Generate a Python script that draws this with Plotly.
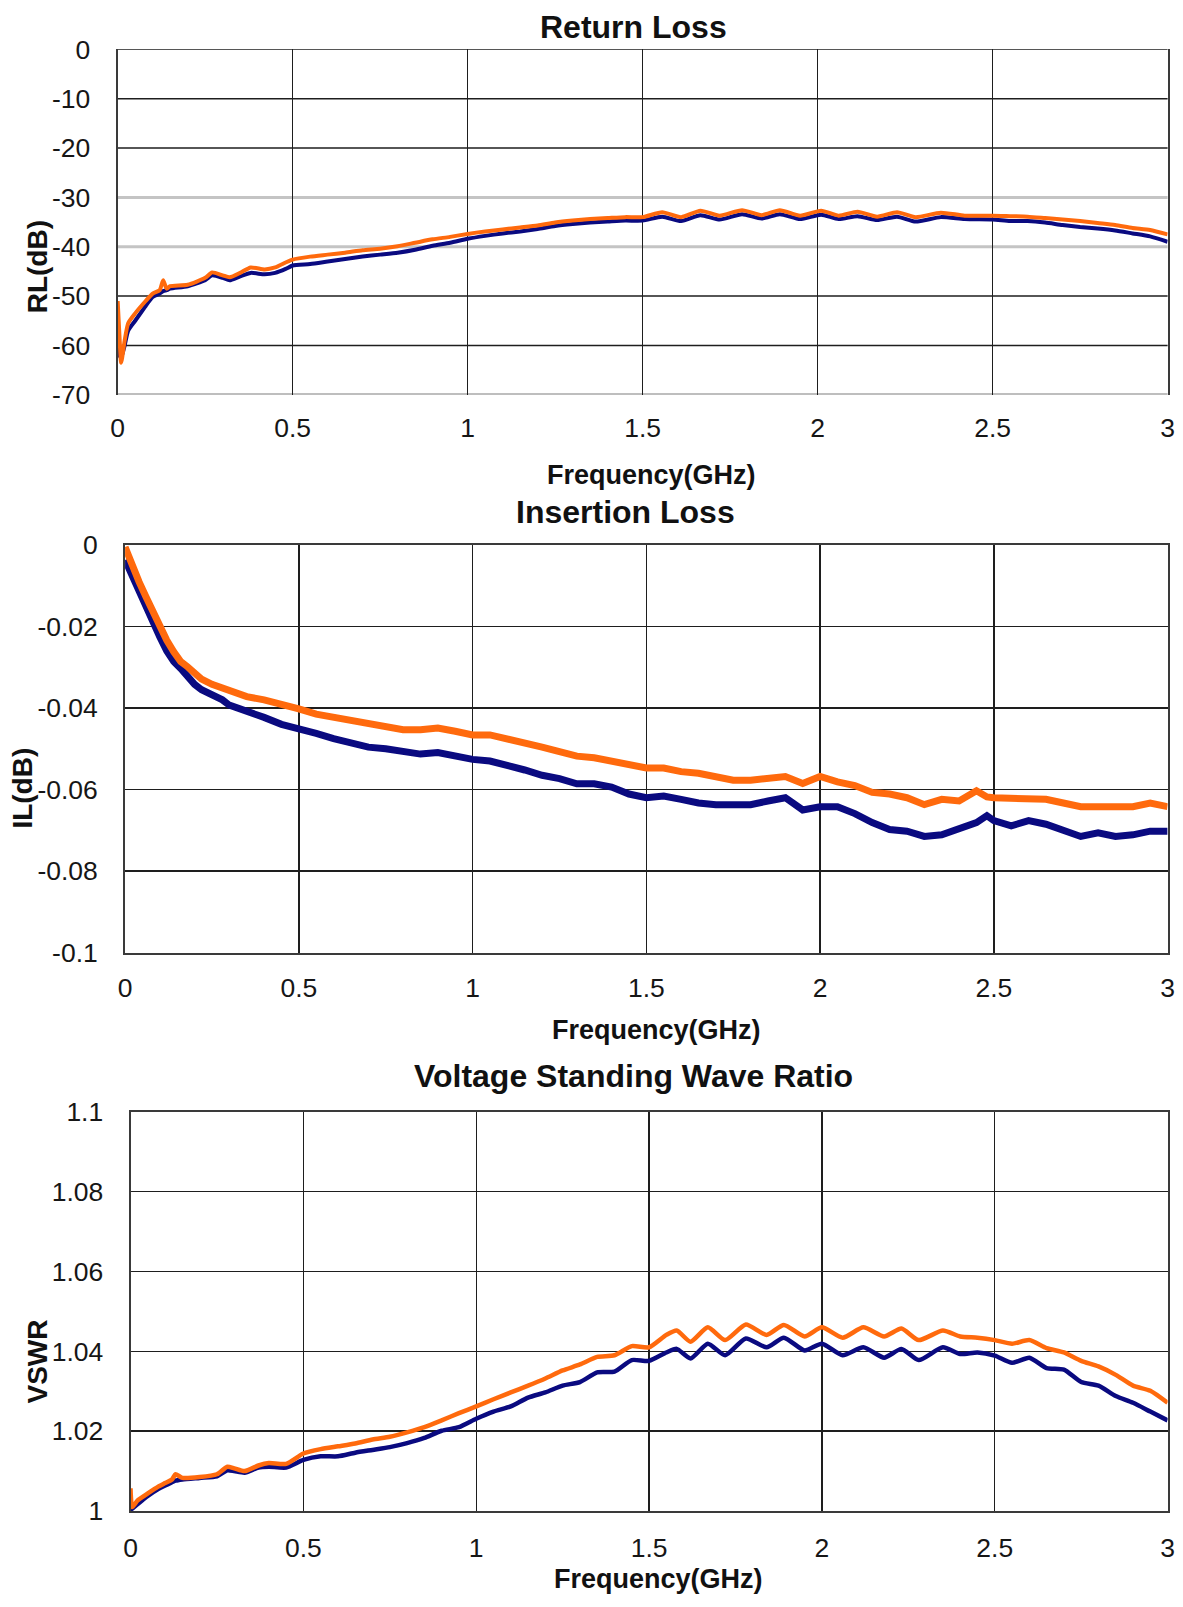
import plotly.graph_objects as go

# ---------------------------------------------------------------- data
# Return loss (dB) vs frequency (GHz)
rl_freq = [0, 0.005, 0.01, 0.02, 0.03, 0.05, 0.08, 0.10, 0.12, 0.13, 0.14, 0.15,
           0.20, 0.25, 0.27, 0.30, 0.32, 0.35, 0.38, 0.42, 0.45, 0.48,
           0.50, 0.55, 0.60, 0.65, 0.70, 0.75, 0.80, 0.85, 0.90, 0.95,
           1.00, 1.05, 1.10, 1.15, 1.20, 1.25, 1.30, 1.35, 1.40, 1.45,
           1.50, 1.556, 1.61, 1.665, 1.72, 1.784, 1.84, 1.892, 1.95, 2.01,
           2.06, 2.114, 2.17, 2.227, 2.28, 2.352, 2.42,
           2.50, 2.55, 2.60, 2.65, 2.70, 2.75, 2.80, 2.85, 2.90, 2.95, 3.00]
rl_orange = [-51.0, -58.0, -63.5, -59.0, -55.5, -53.5, -51.0, -49.5, -48.8, -46.8, -48.5, -48.0,
             -47.7, -46.3, -45.2, -45.8, -46.2, -45.3, -44.2, -44.6, -44.2, -43.2,
             -42.6, -42.0, -41.6, -41.2, -40.7, -40.4, -39.9, -39.2, -38.5, -38.0,
             -37.4, -36.9, -36.5, -36.1, -35.7, -35.1, -34.7, -34.4, -34.2, -34.0,
             -34.0, -33.0, -34.0, -32.7, -33.7, -32.6, -33.6, -32.6, -33.7, -32.7,
             -33.7, -32.9, -33.9, -33.0, -34.0, -33.1, -33.7,
             -33.7, -33.8, -33.9, -34.2, -34.5, -34.8, -35.2, -35.6, -36.2, -36.6, -37.5]
rl_blue = [-60.0, -62.0, -62.5, -60.0, -57.0, -55.0, -52.0, -50.2, -49.5, -49.0, -48.8, -48.5,
           -48.0, -46.8, -45.8, -46.3, -46.8, -46.0, -45.3, -45.6, -45.3, -44.5,
           -43.8, -43.5, -43.0, -42.5, -42.0, -41.6, -41.2, -40.6, -39.8, -39.2,
           -38.4, -37.8, -37.3, -36.9, -36.4, -35.8, -35.4, -35.1, -34.9, -34.7,
           -34.7, -33.9, -34.8, -33.6, -34.5, -33.4, -34.3, -33.4, -34.4, -33.5,
           -34.4, -33.8, -34.6, -33.9, -34.9, -34.0, -34.4,
           -34.5, -34.8, -34.8, -35.1, -35.6, -36.0, -36.3, -36.7, -37.3, -37.9, -39.0]

# Insertion loss (dB) vs frequency (GHz)
il_freq = [0, 0.02, 0.04, 0.06, 0.08, 0.10, 0.12, 0.14, 0.16, 0.18, 0.20, 0.22,
           0.25, 0.28, 0.30,
           0.35, 0.40, 0.45, 0.50, 0.55, 0.60, 0.65, 0.70, 0.75, 0.80, 0.85,
           0.90, 0.95, 1.00, 1.05, 1.10, 1.15, 1.20, 1.25, 1.30, 1.35, 1.40,
           1.45, 1.50, 1.55, 1.60, 1.65, 1.70, 1.75, 1.80, 1.85, 1.90, 1.95,
           2.00, 2.05, 2.10, 2.15, 2.20, 2.25, 2.30, 2.35, 2.40, 2.45,
           2.48,
           2.50, 2.55, 2.60, 2.65, 2.70, 2.75, 2.80, 2.85, 2.90, 2.95, 3.00]
il_orange = [-0.0005, -0.0050, -0.0090, -0.0127, -0.0166, -0.0204, -0.0234, -0.0262, -0.0286, -0.0299, -0.0316, -0.0329,
             -0.0342, -0.0350, -0.0359,
             -0.0372, -0.0380, -0.0389, -0.0402, -0.0415, -0.0423, -0.0432, -0.0440, -0.0445, -0.0453, -0.0453,
             -0.0449, -0.0457, -0.0466, -0.0466, -0.0475, -0.0487, -0.0496, -0.0507, -0.0518, -0.0522, -0.0530,
             -0.0539, -0.0547, -0.0547, -0.0556, -0.0560, -0.0568, -0.0577, -0.0577, -0.0573, -0.0568, -0.0585,
             -0.0568, -0.0581, -0.0590, -0.0607, -0.0611, -0.0620, -0.0637, -0.0624, -0.0628, -0.0603,
             -0.0618,
             -0.0620, -0.0620, -0.0620, -0.0624, -0.0633, -0.0642, -0.0642, -0.0642, -0.0642, -0.0633, -0.0642]
il_blue = [-0.0037, -0.0076, -0.0114, -0.0148, -0.0191, -0.0226, -0.0260, -0.0286, -0.0303, -0.0324, -0.0342, -0.0355,
           -0.0367, -0.0380, -0.0393,
           -0.0406, -0.0423, -0.0440, -0.0449, -0.0462, -0.0475, -0.0487, -0.0496, -0.0500, -0.0505, -0.0513,
           -0.0509, -0.0518, -0.0526, -0.0530, -0.0539, -0.0552, -0.0565, -0.0573, -0.0586, -0.0586, -0.0594,
           -0.0611, -0.0620, -0.0616, -0.0624, -0.0633, -0.0637, -0.0637, -0.0637, -0.0628, -0.0620, -0.0650,
           -0.0642, -0.0642, -0.0659, -0.0681, -0.0698, -0.0702, -0.0715, -0.0711, -0.0698, -0.0681,
           -0.0664,
           -0.0676, -0.0689, -0.0676, -0.0685, -0.0702, -0.0715, -0.0706, -0.0715, -0.0711, -0.0702, -0.0702]

# Voltage standing wave ratio vs frequency (GHz)
vswr_freq = [0, 0.005, 0.02, 0.05, 0.08, 0.10, 0.12, 0.13, 0.15,
             0.20, 0.25, 0.28, 0.30, 0.33, 0.37, 0.40, 0.45,
             0.50, 0.55, 0.60, 0.65, 0.70, 0.75, 0.80, 0.85, 0.90, 0.95, 1.00,
             1.05, 1.10, 1.15, 1.20, 1.25, 1.30, 1.35, 1.40, 1.45, 1.50, 1.55,
             1.58, 1.62, 1.67, 1.72, 1.78, 1.84, 1.89, 1.95, 2.00, 2.06, 2.12,
             2.18, 2.23, 2.28, 2.35,
             2.40, 2.45, 2.50, 2.55, 2.60, 2.65, 2.70, 2.75, 2.80, 2.85, 2.90, 2.95, 3.00]
vswr_orange = [1.0057, 1.0010, 1.0026, 1.0044, 1.0061, 1.0070, 1.0079, 1.0092, 1.0083,
               1.0085, 1.0092, 1.0111, 1.0107, 1.0100, 1.0114, 1.0120, 1.0118,
               1.0144, 1.0155, 1.0162, 1.0169, 1.0179, 1.0186, 1.0197, 1.0210, 1.0227, 1.0245, 1.0262,
               1.0280, 1.0297, 1.0314, 1.0332, 1.0352, 1.0367, 1.0386, 1.0390, 1.0413, 1.0410, 1.0441,
               1.0452, 1.0424, 1.0460, 1.0428, 1.0467, 1.0441, 1.0466, 1.0437, 1.0460, 1.0434, 1.0460,
               1.0437, 1.0457, 1.0428, 1.0452,
               1.0437, 1.0434, 1.0428, 1.0419, 1.0428, 1.0408, 1.0397, 1.0376, 1.0362, 1.0341, 1.0314, 1.0301, 1.0271]
vswr_blue = [1.0004, 1.0006, 1.0017, 1.0038, 1.0055, 1.0064, 1.0072, 1.0076, 1.0079,
             1.0083, 1.0087, 1.0102, 1.0100, 1.0096, 1.0109, 1.0111, 1.0109,
             1.0128, 1.0137, 1.0137, 1.0146, 1.0153, 1.0160, 1.0170, 1.0183, 1.0201, 1.0210, 1.0231,
             1.0249, 1.0262, 1.0284, 1.0297, 1.0314, 1.0323, 1.0347, 1.0349, 1.0378, 1.0376, 1.0397,
             1.0406, 1.0382, 1.0419, 1.0390, 1.0432, 1.0410, 1.0434, 1.0402, 1.0419, 1.0390, 1.0410,
             1.0384, 1.0406, 1.0378, 1.0410,
             1.0393, 1.0397, 1.0389, 1.0371, 1.0384, 1.0358, 1.0354, 1.0323, 1.0314, 1.0288, 1.0271, 1.0249, 1.0227]

# Axis ticks
freq_ticks = [0, 0.5, 1, 1.5, 2, 2.5, 3]
freq_labels = ["0", "0.5", "1", "1.5", "2", "2.5", "3"]
rl_ticks = [0, -10, -20, -30, -40, -50, -60, -70]
rl_labels = ["0", "-10", "-20", "-30", "-40", "-50", "-60", "-70"]
il_ticks = [0, -0.02, -0.04, -0.06, -0.08, -0.1]
il_labels = ["0", "-0.02", "-0.04", "-0.06", "-0.08", "-0.1"]
vswr_ticks = [1, 1.02, 1.04, 1.06, 1.08, 1.1]
vswr_labels = ["1", "1.02", "1.04", "1.06", "1.08", "1.1"]

# ---------------------------------------------------------------- style
W, H = 1183, 1607
FONT = "Arial, 'Liberation Sans', sans-serif"
TEXT = "#161616"
ORANGE = "#FF6A0D"
NAVY = "#0A0A80"
GRID = "#1e1e1e"
FRAME = "#3a3a3a"


def fx(px):
    """figure x pixel -> paper fraction"""
    return px / W


def fy(px):
    """figure y pixel (from top) -> paper fraction"""
    return 1 - px / H


# plot boxes in figure pixels: (left, right, top, bottom)
# right edge leaves room for the last "3" tick label inside the figure
BOX1 = (112, 1174.5, 35, 387)
BOX2 = (119.5, 1174.5, 540, 955.5)
BOX3 = (125, 1174.5, 1117.5, 1524.5)

fig = go.Figure()

# (x axis, y axis, freq, blue, orange, width, line shape)
series = [
    ("x", "y", rl_freq, rl_blue, rl_orange, 4, "spline"),
    ("x2", "y2", il_freq, il_blue, il_orange, 7, "linear"),
    ("x3", "y3", vswr_freq, vswr_blue, vswr_orange, 4.5, "spline"),
]
for xa, ya, fr, blue, orange, lw, shape in series:
    for vals, col in ((blue, NAVY), (orange, ORANGE)):
        fig.add_trace(go.Scatter(x=fr, y=vals, mode="lines", xaxis=xa, yaxis=ya,
                                 line=dict(color=col, width=lw, shape=shape, smoothing=0.6),
                                 showlegend=False))

TICK_FONT = dict(family=FONT, size=26.5, color=TEXT)


def xaxis_cfg(box, anchor, standoff, frame=True):
    return dict(
        domain=[fx(box[0]), fx(box[1])], anchor=anchor, range=[0, 3],
        tickmode="array", tickvals=freq_ticks, ticktext=freq_labels,
        showgrid=True, gridcolor=GRID, gridwidth=1.4, zeroline=False,
        showline=frame, mirror=frame, linecolor=FRAME, linewidth=2,
        ticks="", ticklabelstandoff=standoff, tickfont=TICK_FONT, fixedrange=True,
    )


def yaxis_cfg(box, anchor, rng, tv, tt, grid=True):
    return dict(
        domain=[fy(box[3]), fy(box[2])], anchor=anchor, range=rng,
        tickmode="array", tickvals=tv, ticktext=tt,
        showgrid=grid, gridcolor=GRID, gridwidth=1.4, zeroline=False,
        showline=True, mirror=True, linecolor=FRAME, linewidth=2,
        ticks="", ticklabelstandoff=20, tickfont=TICK_FONT, fixedrange=True,
    )


fig.update_layout(
    width=W, height=H, margin=dict(l=0, r=0, t=0, b=0),
    paper_bgcolor="white", plot_bgcolor="white", hovermode=False,
    xaxis=xaxis_cfg(BOX1, "y", 15, frame=False),
    yaxis=yaxis_cfg(BOX1, "x", [-70, 0], rl_ticks, rl_labels, grid=False),
    xaxis2=xaxis_cfg(BOX2, "y2", 11),
    yaxis2=yaxis_cfg(BOX2, "x2", [-0.1, 0], il_ticks, il_labels),
    xaxis3=xaxis_cfg(BOX3, "y3", 12),
    yaxis3=yaxis_cfg(BOX3, "x3", [1, 1.1], vswr_ticks, vswr_labels),
)

# return-loss horizontal rules: some rows print as soft grey bands
soft_rows = {-30: "#c4c4c4", -40: "#c4c4c4", -70: "#a8a8a8"}
shapes = []
for v in rl_ticks:
    col = soft_rows.get(v, GRID)
    wid = 3 if v in soft_rows else 1.5
    shapes.append(dict(type="line", xref="x domain", yref="y", x0=0, x1=1, y0=v, y1=v,
                       line=dict(color=col, width=wid), layer="below"))
fig.update_layout(shapes=shapes)

annotations = []
titles = [("Return Loss", 634, 12), ("Insertion Loss", 625.5, 506),
          ("Voltage Standing Wave Ratio", 634.5, 1081)]
for txt, x, y in titles:
    annotations.append(dict(text=f"<b>{txt}</b>", x=fx(x), y=fy(y), xref="paper", yref="paper",
                            showarrow=False, xanchor="center", yanchor="middle",
                            font=dict(family=FONT, size=32, color="#111111")))
for x, y in ((652, 469), (657, 1034), (659, 1594)):
    annotations.append(dict(text="<b>Frequency(GHz)</b>", x=fx(x), y=fy(y), xref="paper", yref="paper",
                            showarrow=False, xanchor="center", yanchor="middle",
                            font=dict(family=FONT, size=27, color="#111111")))
for txt, x, y in (("RL(dB)", 30.5, 257), ("IL(dB)", 15.5, 788), ("VSWR", 30.5, 1372)):
    annotations.append(dict(text=f"<b>{txt}</b>", x=fx(x), y=fy(y), xref="paper", yref="paper",
                            showarrow=False, xanchor="center", yanchor="middle", textangle=-90,
                            font=dict(family=FONT, size=28, color="#111111")))
fig.update_layout(annotations=annotations)

fig.write_html("out.html", config={"displayModeBar": False, "staticPlot": True})
